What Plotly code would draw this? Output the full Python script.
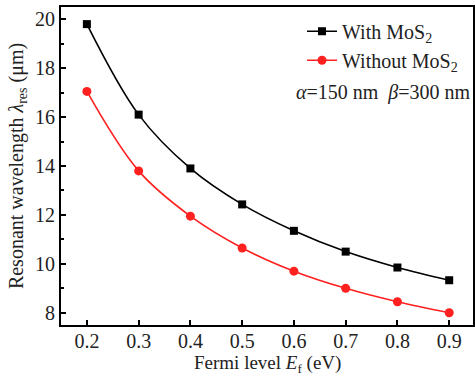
import plotly.graph_objects as go

# Fermi level (eV) and resonant wavelength (µm)
fermi_level = [0.2, 0.3, 0.4, 0.5, 0.6, 0.7, 0.8, 0.9]
with_mos2 = [19.8, 16.1, 13.9, 12.43, 11.35, 10.5, 9.85, 9.33]
without_mos2 = [17.05, 13.8, 11.95, 10.65, 9.7, 9.0, 8.45, 8.0]

x_ticks = [0.2, 0.3, 0.4, 0.5, 0.6, 0.7, 0.8, 0.9]
y_ticks = [8, 10, 12, 14, 16, 18, 20]

FONT = "Liberation Serif, Times New Roman, serif"
TXT = "#222"

fig = go.Figure()
fig.add_trace(go.Scatter(
    x=fermi_level, y=with_mos2, name="With MoS<sub>2</sub>",
    mode="lines+markers", line=dict(color="black", width=1.6, shape="spline"),
    marker=dict(symbol="square", size=8, color="black"),
))
fig.add_trace(go.Scatter(
    x=fermi_level, y=without_mos2, name="Without MoS<sub>2</sub>",
    mode="lines+markers", line=dict(color="#ff2020", width=1.6, shape="spline"),
    marker=dict(symbol="circle", size=9, color="#ff2020"),
))

axis_common = dict(
    showline=True, linecolor="black", linewidth=2, mirror=True,
    ticks="inside", ticklen=5, tickwidth=1.5, tickcolor="black",
    showgrid=False, zeroline=False,
    tickfont=dict(family=FONT, size=20, color=TXT),
)

fig.update_xaxes(
    range=[0.15, 0.946], tickvals=x_ticks, ticktext=[f"{v:.1f}" for v in x_ticks],
    ticklabelstandoff=-3,
    **axis_common,
)
fig.update_yaxes(
    range=[7.5, 20.5], tickvals=y_ticks,
    minor=dict(tickvals=[9, 11, 13, 15, 17, 19], ticks="inside", ticklen=3,
               tickwidth=1.5, tickcolor="black"),
    title=dict(text="Resonant wavelength <i>λ</i><sub>res</sub> (μm)",
               font=dict(family=FONT, size=20, color=TXT), standoff=6),
    **axis_common,
)

# x-axis title placed below the tick labels
fig.add_annotation(
    x=0.5, y=-0.124, xref="paper", yref="paper", showarrow=False,
    xanchor="center", yanchor="middle",
    text="Fermi level <i>E</i><sub>f</sub> (eV)",
    font=dict(family=FONT, size=19, color=TXT),
)

# geometry parameters
fig.add_annotation(
    x=0.946, y=1 - (92 - 7) / 318, xref="x", yref="paper", showarrow=False,
    xanchor="right", yanchor="middle",
    text="<i>α</i>=150 nm  <i>β</i>=300 nm",
    font=dict(family=FONT, size=20, color=TXT),
)

fig.update_layout(
    width=475, height=376,
    margin=dict(l=61, r=0, t=7, b=51),
    paper_bgcolor="white", plot_bgcolor="white",
    legend=dict(x=0.585, y=0.985, xanchor="left", yanchor="top",
                bgcolor="rgba(0,0,0,0)", tracegroupgap=0,
                font=dict(family=FONT, size=20, color=TXT),
                itemwidth=30),
    showlegend=True,
)

fig.write_html("out.html")
